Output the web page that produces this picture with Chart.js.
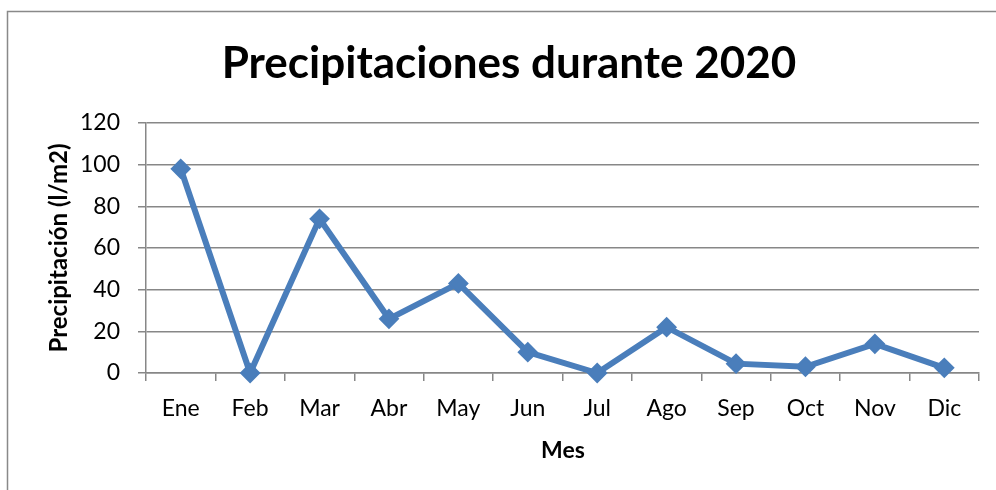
<!DOCTYPE html>
<html>
<head>
<meta charset="utf-8">
<script src="https://cdn.jsdelivr.net/npm/chart.js@4/dist/chart.umd.min.js"></script>
<style>
  html, body { margin: 0; padding: 0; background: #ffffff; }
  #wrap { width: 996px; height: 490px; position: relative; }
</style>
</head>
<body>
<div id="wrap"><canvas id="c" width="996" height="490"></canvas></div>
<script>
const categories = ['Ene', 'Feb', 'Mar', 'Abr', 'May', 'Jun', 'Jul', 'Ago', 'Sep', 'Oct', 'Nov', 'Dic'];
const precipitation = [98, 0, 74, 26, 43, 10, 0, 22, 4.5, 3, 14, 2.5];
const yTicks = [0, 20, 40, 60, 80, 100, 120];
const chartTitle = 'Precipitaciones durante 2020';
const yTitle = 'Precipitación (l/m2)';
const xTitle = 'Mes';

const FONT = 'Lato, "Open Sans", sans-serif';
const GRID = '#878787';
const LINE = '#4a7ebb';

const PAD = { left: 20, right: 17, top: 123, bottom: 20 };

const decorPlugin = {
  id: 'decor',
  beforeDraw(chart) {
    const ctx = chart.ctx;
    ctx.save();
    ctx.fillStyle = '#ffffff';
    ctx.fillRect(0, 0, chart.width, chart.height);
    ctx.strokeStyle = '#898989';
    ctx.lineWidth = 1.5;
    ctx.strokeRect(7.5, 11.5, 1200, 1200);
    ctx.restore();
  },
  afterDraw(chart) {
    const ctx = chart.ctx;
    ctx.save();
    ctx.fillStyle = '#000000';
    ctx.textAlign = 'center';
    ctx.textBaseline = 'alphabetic';
    ctx.font = 'bold 44px ' + FONT;
    ctx.fillText(chartTitle, 509, 78);
    ctx.font = 'bold 23px ' + FONT;
    ctx.fillText(xTitle, 563, 458);
    ctx.translate(67, 248);
    ctx.rotate(-Math.PI / 2);
    ctx.font = 'bold 24px ' + FONT;
    ctx.fillText(yTitle, 0, 0);
    ctx.restore();
  }
};

new Chart(document.getElementById('c'), {
  type: 'line',
  data: {
    labels: categories,
    datasets: [{
      data: precipitation,
      borderColor: LINE,
      backgroundColor: LINE,
      borderWidth: 6,
      pointStyle: 'rectRot',
      pointRadius: 9,
      pointBorderWidth: 2,
      pointBackgroundColor: LINE,
      pointBorderColor: LINE,
      tension: 0,
      fill: false,
      clip: false
    }]
  },
  options: {
    responsive: false,
    animation: false,
    events: [],
    layout: { padding: PAD },
    plugins: {
      legend: { display: false },
      title: { display: false },
      tooltip: { enabled: false }
    },
    scales: {
      x: {
        type: 'category',
        offset: true,
        grid: {
          offset: true,
          display: true,
          drawOnChartArea: false,
          drawTicks: true,
          tickLength: 8,
          color: GRID,
          lineWidth: 1.5
        },
        border: { display: true, color: GRID, width: 1.5 },
        ticks: {
          color: '#000000',
          font: { family: FONT, size: 23 },
          padding: 14,
          maxRotation: 0,
          autoSkip: false
        },
        afterFit(scale) { scale.height = 490 - 373 - PAD.bottom; }
      },
      y: {
        min: 0,
        max: 120,
        afterBuildTicks(scale) { scale.ticks = yTicks.map(v => ({ value: v })); },
        grid: {
          color: GRID,
          lineWidth: 1.5,
          drawTicks: true,
          tickLength: 8
        },
        border: { display: true, color: GRID, width: 1.5 },
        ticks: {
          color: '#000000',
          font: { family: FONT, size: 23 },
          padding: 18
        },
        afterFit(scale) { scale.width = 146 - PAD.left; }
      }
    }
  },
  plugins: [decorPlugin]
});
</script>
</body>
</html>
